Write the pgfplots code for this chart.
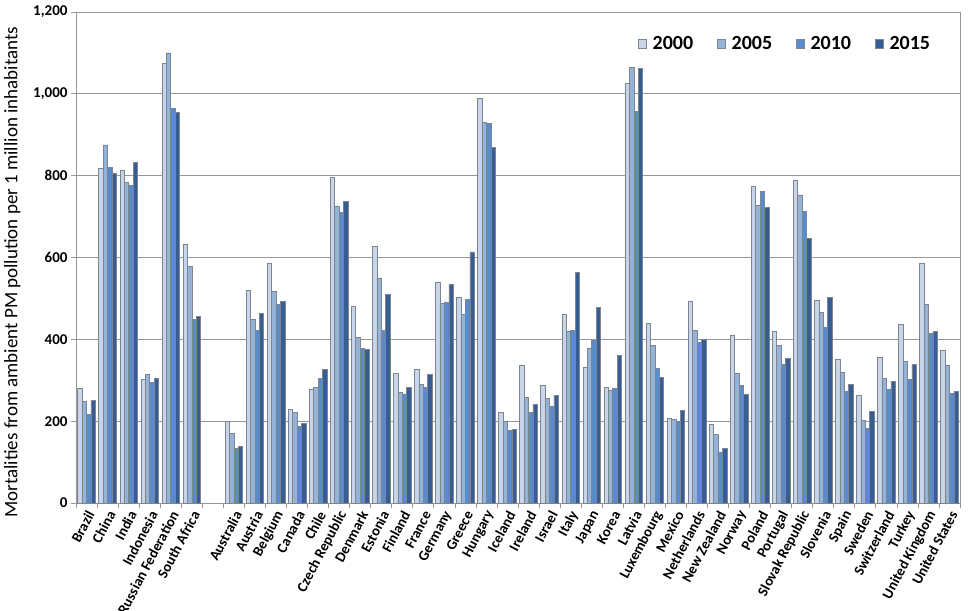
\documentclass[border=0pt]{standalone}
\usepackage{pgfplots}
\usepackage{pgfplotstable}
\pgfplotsset{compat=1.18}
\usepackage{fontspec}
\setmainfont{Carlito}

\definecolor{cA}{RGB}{200,213,233}
\definecolor{cB}{RGB}{149,179,215}
\definecolor{cC}{RGB}{88,140,207}
\definecolor{cD}{RGB}{55,94,146}
\definecolor{edge}{RGB}{125,133,146}
\definecolor{gridc}{RGB}{150,150,150}

% mortalities per 1 million inhabitants; x = slot (6 is the empty gap)
\pgfplotstableread{
x y2000 y2005 y2010 y2015
0 280 248 217 251
1 818 875 820 806
2 813 784 776 833
3 303 315 294 305
4 1075 1100 964 955
5 632 579 449 456
7 199 171 134 139
8 520 449 422 463
9 586 517 486 492
10 229 222 187 194
11 278 283 305 327
12 796 726 711 737
13 481 405 378 375
14 627 550 422 510
15 317 270 267 283
16 327 290 283 314
17 539 488 490 534
18 503 461 498 614
19 990 931 928 869
20 222 199 178 180
21 336 259 221 241
22 288 256 236 263
23 461 419 422 564
24 332 379 398 478
25 283 276 280 361
26 1026 1065 957 1062
27 439 386 329 307
28 207 205 199 227
29 494 422 392 399
30 192 168 125 133
31 410 317 288 267
32 774 728 762 722
33 420 385 339 353
34 790 753 713 647
35 495 467 429 503
36 351 320 273 290
37 263 202 182 224
38 356 305 278 297
39 437 347 302 339
40 586 485 415 419
41 373 336 268 273
}\data

\begin{document}
\begin{tikzpicture}
\begin{axis}[
    width=884pt, height=491pt, scale only axis,
    ybar=0pt, bar width=0.21,
    xmin=-0.5, xmax=41.5,
    ymin=0, ymax=1200,
    ytick={0,200,...,1200},
    scaled y ticks=false,
    xtick={-0.5,0.5,...,41.5},
    xticklabels={},
    extra x ticks={0,1,2,3,4,5,7,8,...,41},
    extra x tick labels={Brazil,China,India,Indonesia,Russian Federation,South Africa,
        Australia,Austria,Belgium,Canada,Chile,Czech Republic,Denmark,Estonia,Finland,
        France,Germany,Greece,Hungary,Iceland,Ireland,Israel,Italy,Japan,Korea,Latvia,
        Luxembourg,Mexico,Netherlands,New Zealand,Norway,Poland,Portugal,Slovak Republic,
        Slovenia,Spain,Sweden,Switzerland,Turkey,United Kingdom,United States},
    extra x tick style={major tick length=0pt, grid=none,
        xticklabel style={rotate=62, anchor=east, inner sep=1pt, xshift=-5pt, yshift=-8pt,
            font=\fontsize{14.5}{16}\selectfont\bfseries}},
    yticklabel style={font=\fontsize{15}{17}\selectfont\bfseries,
        /pgf/number format/.cd, 1000 sep={,}, assume math mode=true},
    tick align=outside,
    major tick length=5pt,
    xtick pos=bottom, ytick pos=left,
    tick style={draw=gridc, line width=0.7pt},
    axis line style={draw=gridc, line width=0.8pt},
    ymajorgrids=true,
    major grid style={draw=gridc, line width=0.8pt},
    ylabel={Mortalities from ambient PM pollution per 1 million inhabitants},
    ylabel style={font=\fontsize{19}{22}\selectfont, at={(axis description cs:-0.072,0.47)}, anchor=center},
    legend style={at={(0.972,0.935)}, anchor=east, draw=none, fill=none,
        legend columns=4, font=\fontsize{20}{24}\selectfont\bfseries,
        /tikz/every odd column/.append style={column sep=4pt},
        /tikz/every even column/.append style={column sep=22pt}},
    legend image code/.code={\draw[#1, draw=edge, line width=0.4pt] (0pt,-4.5pt) rectangle (8pt,4.5pt);},
]
\addplot[fill=cA, draw=edge, line width=0.5pt] table[x=x, y=y2000] {\data};
\addplot[fill=cB, draw=edge, line width=0.5pt] table[x=x, y=y2005] {\data};
\addplot[fill=cC, draw=edge, line width=0.5pt] table[x=x, y=y2010] {\data};
\addplot[fill=cD, draw=edge, line width=0.5pt] table[x=x, y=y2015] {\data};
\legend{2000,2005,2010,2015}
\end{axis}
\pgfresetboundingbox
\useasboundingbox (-76pt,-107pt) rectangle (892pt,503pt);
\end{tikzpicture}
\end{document}
